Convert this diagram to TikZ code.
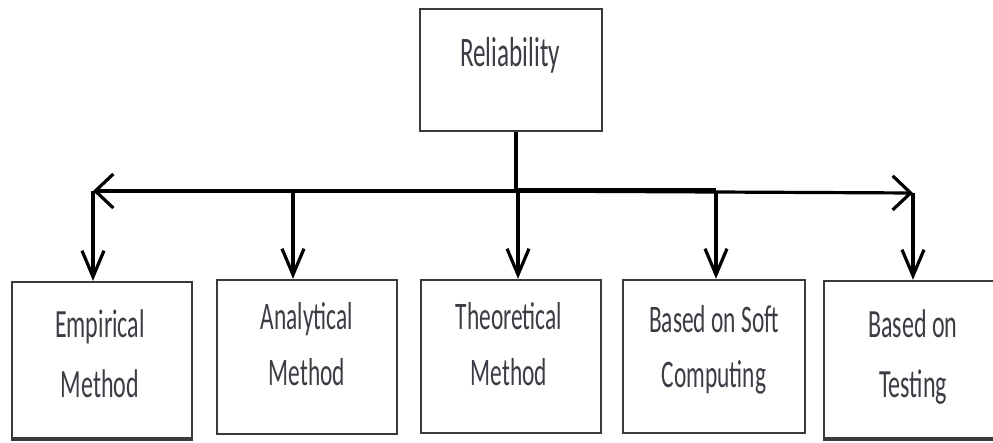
\documentclass[tikz,border=0pt]{standalone}
\usepackage{fontspec}
\setmainfont{Carlito}[FakeStretch=0.6]
\usetikzlibrary{arrows.meta}
\definecolor{boxgray}{HTML}{3A3A3A}
\definecolor{txtgray}{HTML}{3C3C44}
\begin{document}
\begin{tikzpicture}[x=1pt,y=-1pt,
  box/.style={draw=boxgray, line width=2.4pt, inner sep=0pt},
  lbl/.style={text=txtgray, align=center, inner sep=0pt,
    font=\fontsize{39}{55}\selectfont},
  wire/.style={draw=black, line width=3.2pt},
  sidetip/.style={-{Straight Barb[length=18pt,width=34pt]}},
  downtip/.style={-{Straight Barb[length=26pt,width=22pt]}}]
\useasboundingbox (0,0) rectangle (993,443);

% root box
\node[box, minimum width=182pt, minimum height=122pt] (rel) at (511,70) {};
\node[lbl, anchor=base, font=\fontsize{42}{55}\selectfont] (relt) at (510,67) {Reliability};

% category boxes
\node[box, minimum width=180pt, minimum height=156pt] (emp) at (102,360) {};
\node[box, minimum width=180pt, minimum height=154pt] (ana) at (307,357) {};
\node[box, minimum width=180pt, minimum height=153pt] (theo) at (511,356.5) {};
\node[box, minimum width=182pt, minimum height=153pt] (soft) at (714,356.5) {};
\node[box, minimum width=180pt, minimum height=157pt] (test) at (914,359.5) {};
\draw[boxgray, line width=4pt] (emp.south west) -- (emp.south east);
\draw[boxgray, line width=4pt] (test.south west) -- (test.south east);

% labels, placed by the baseline of their last line
\node[lbl, anchor=base, font=\fontsize{40}{59}\selectfont] (empt) at (100,397) {Empirical\\Method};
\node[lbl, anchor=base] (anat) at (307,385) {Analytical\\Method};
\node[lbl, anchor=base] (theot) at (509,385) {Theoretical\\Method};
\node[lbl, anchor=base] (softt) at (714,388) {Based on Soft\\Computing};
\node[lbl, anchor=base, font=\fontsize{40}{59}\selectfont] (testt) at (913,397) {Based on\\Testing};

% branch points on the distribution line
\coordinate (j) at (516,191);
\coordinate (hl) at (93,191);
\coordinate (hr) at (913,193);
\coordinate (ja) at (293,191);
\coordinate (jt) at (518,191);
\coordinate (js) at (716,191);

\draw[wire] (j |- rel.south) -- (j);
\draw[wire, sidetip] (j) -- (hl);
\draw[wire, sidetip] (j) -- (hr);
\draw[black, line width=5pt] (j) -- (js);

\draw[wire, downtip] (hl) -- (hl |- emp.north);
\draw[wire, downtip] (ja) -- (ja |- ana.north);
\draw[wire, downtip] (jt) -- (jt |- theo.north);
\draw[wire, downtip] (js) -- (js |- soft.north);
\draw[wire, downtip] (hr) -- (hr |- test.north);
\end{tikzpicture}
\end{document}
